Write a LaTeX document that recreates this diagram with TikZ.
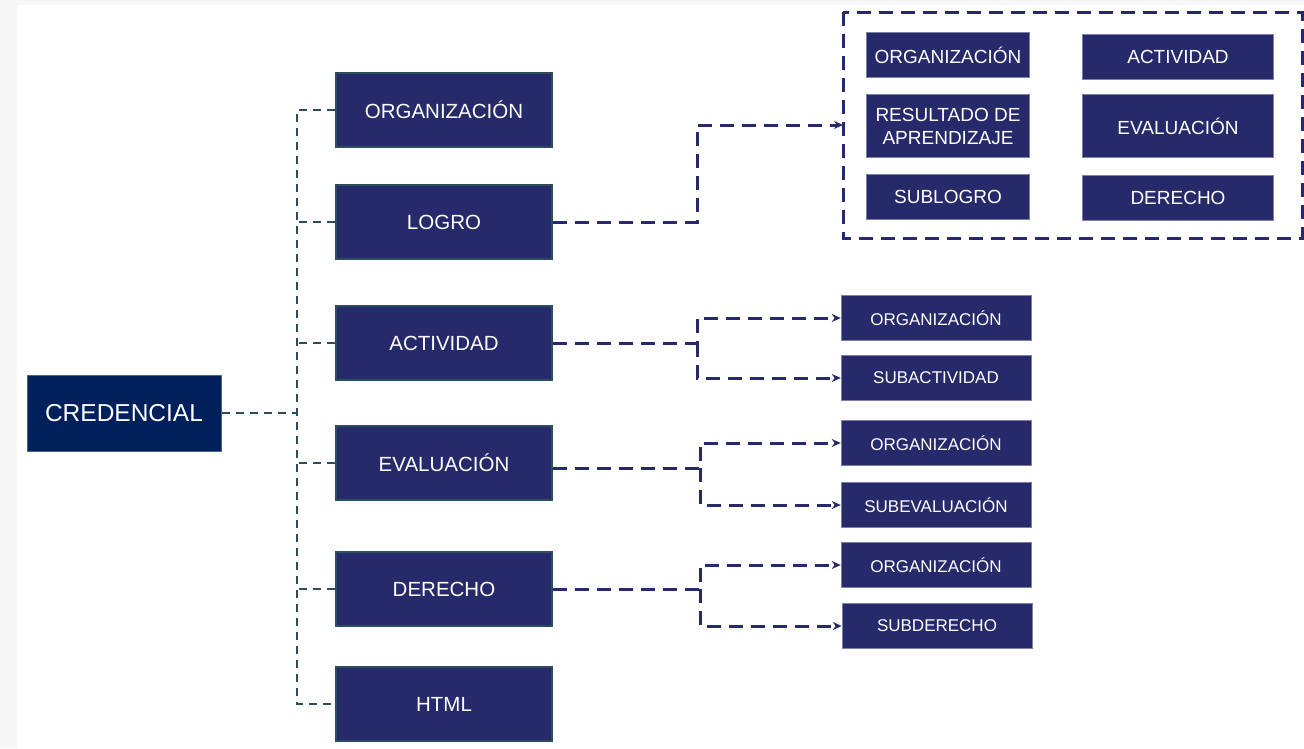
\documentclass[tikz,border=0pt]{standalone}
\usepackage{fontspec}
\setmainfont{Liberation Sans}
\usetikzlibrary{positioning}
\usetikzlibrary{calc}
\usetikzlibrary{arrows.meta}

\definecolor{navy}{RGB}{38,42,107}
\definecolor{deepnavy}{RGB}{0,32,91}
\definecolor{slate}{RGB}{44,78,92}

\begin{document}
\begin{tikzpicture}[x=1pt, y=-1pt, >={Stealth[length=9pt, width=8pt]},
                    root/.style={fill=deepnavy, draw=deepnavy!70!white, line width=1pt, text=white,
                                 minimum width=194pt, minimum height=76pt, font=\fontsize{24.5}{28}\selectfont},
                    entity/.style={fill=navy, draw=slate, line width=2pt, text=white,
                                   minimum width=216pt, minimum height=74pt, font=\fontsize{20.5}{24}\selectfont},
                    sub/.style={fill=navy, draw=navy!60!white, line width=.6pt, text=white, align=center,
                                minimum width=190pt, minimum height=45pt, font=\fontsize{17}{20}\selectfont},
                    part/.style={sub, minimum width=163pt, font=\fontsize{19}{23}\selectfont},
                    trunk/.style={draw=slate, line width=1.8pt, dash pattern=on 8pt off 6pt},
                    link/.style={draw=navy, line width=3pt, dash pattern=on 14pt off 8pt, ->}]
    % page
    \fill[gray!6] (0,0) rectangle (1304,748);
    \fill[white] (17,5) rectangle (1304,748);

    \node[root] (cred) at (124,413) {CREDENCIAL};

    \path
        node[entity] (org)  at (444,110) {ORGANIZACIÓN}
        node[entity] (logro) at (444,222) {LOGRO}
        node[entity] (act)  at (444,343) {ACTIVIDAD}
        node[entity] (eval) at (444,463) {EVALUACIÓN}
        node[entity] (der)  at (444,589) {DERECHO}
        node[entity] (html) at (444,704) {HTML};

    % grouped parts of LOGRO
    \draw[navy, line width=3pt, dash pattern=on 14pt off 8pt] (843,12) rectangle (1302,238);
    \coordinate (group) at (843,125);
    \path
        node[part] (lorg) at (948,55)  {ORGANIZACIÓN}
        node[part, minimum height=63pt] (lres) at (948,126) {RESULTADO DE\\APRENDIZAJE}
        node[part] (lsub) at (948,197) {SUBLOGRO}
        node[part, minimum width=191pt] (lact) at (1178,57)  {ACTIVIDAD}
        node[part, minimum width=191pt, minimum height=63pt] (leva) at (1178,126) {EVALUACIÓN}
        node[part, minimum width=191pt] (lder) at (1178,198) {DERECHO};

    % children
    \path
        node[sub] (aorg) at (936,318) {ORGANIZACIÓN}
        node[sub] (asub) at (936,378) {SUBACTIVIDAD}
        node[sub] (eorg) at (936,443) {ORGANIZACIÓN}
        node[sub] (esub) at (936,505) {SUBEVALUACIÓN}
        node[sub] (dorg) at (936,565) {ORGANIZACIÓN}
        node[sub] (dsub) at (937,626) {SUBDERECHO};

    % tree from CREDENCIAL
    \coordinate (stem) at (297,413);
    \draw[trunk] (cred.east) -- (stem);
    \draw[trunk] (org.west) -| (297,413) |- (html.west);
    \foreach \n in {logro, act, eval, der}
        \draw[trunk] (\n.west) -- ($(stem|-\n.west)$);

    % links to the right
    \draw[link] (logro.east) -| (697,125) -- (group);
    \draw[link] (act.east) -- (697,343) |- (aorg.west);
    \draw[link] (697,343) |- (asub.west);
    \draw[link] (eval.east |- 0,468) -- (700,468) |- (eorg.west);
    \draw[link] (700,468) |- (esub.west);
    \draw[link] (der.east) -- (700,589) |- (dorg.west);
    \draw[link] (700,589) |- (dsub.west);
\end{tikzpicture}
\end{document}
